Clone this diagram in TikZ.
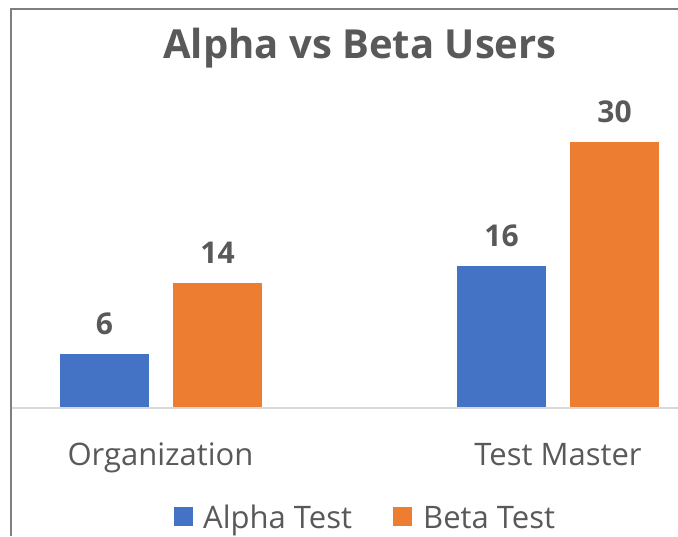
\documentclass[tikz,border=0pt]{standalone}
\usepackage{fontspec}
\setmainfont{Open Sans}
\usetikzlibrary{positioning}
\definecolor{alphablue}{HTML}{4472C4}
\definecolor{betaorange}{HTML}{ED7D31}
\definecolor{inkgray}{HTML}{595959}
\definecolor{axisgray}{HTML}{D9D9D9}
\definecolor{framegray}{HTML}{7F7F7F}

\begin{document}
\begin{tikzpicture}[x=1pt,y=-1pt,inner sep=0pt,
    title/.style={text=inkgray,font=\fontsize{40}{45}\selectfont\bfseries,anchor=base},
    value/.style={text=inkgray,font=\fontsize{30}{34}\selectfont\bfseries,anchor=base,yshift=19.5pt},
    category/.style={text=inkgray,font=\fontsize{31}{36}\selectfont,anchor=base},
    keytext/.style={text=inkgray,font=\fontsize{31}{36}\selectfont,anchor=base west},
    keybox/.style={minimum size=19pt,draw=none}]
  \useasboundingbox (0,0) rectangle (678,536);
  \fill[white] (0,0) rectangle (678,536);
  \draw[framegray,line width=2pt] (11,536) -- (11,9) -- (678,9);

  \node[title] (ttl) at (360,58) {Alpha vs Beta Users};

  % bars: left edge / value / colour / name
  \foreach \x/\v/\c/\n in {60/6/alphablue/ao,173/14/betaorange/bo,457/16/alphablue/at,570/30/betaorange/bt}{
    \fill[\c] (\x,407) rectangle ++(89,-\v*8.83);
    \node[value] (v\n) at (\x+44.5,407-\v*8.83) {\v};
  }
  \draw[axisgray,line width=2pt] (12,408) -- (678,408);

  \node[category] (org) at (160.5,465) {Organization};
  \node[category] (tm) at (558,465) {Test Master};

  \node[keybox,fill=alphablue] (ka) at (183,516.5) {};
  \node[keytext] (la) at (203,528) {Alpha Test};
  \node[keybox,fill=betaorange] (kb) at (402,516.5) {};
  \node[keytext] (lb) at (423,528) {Beta Test};
\end{tikzpicture}
\end{document}
